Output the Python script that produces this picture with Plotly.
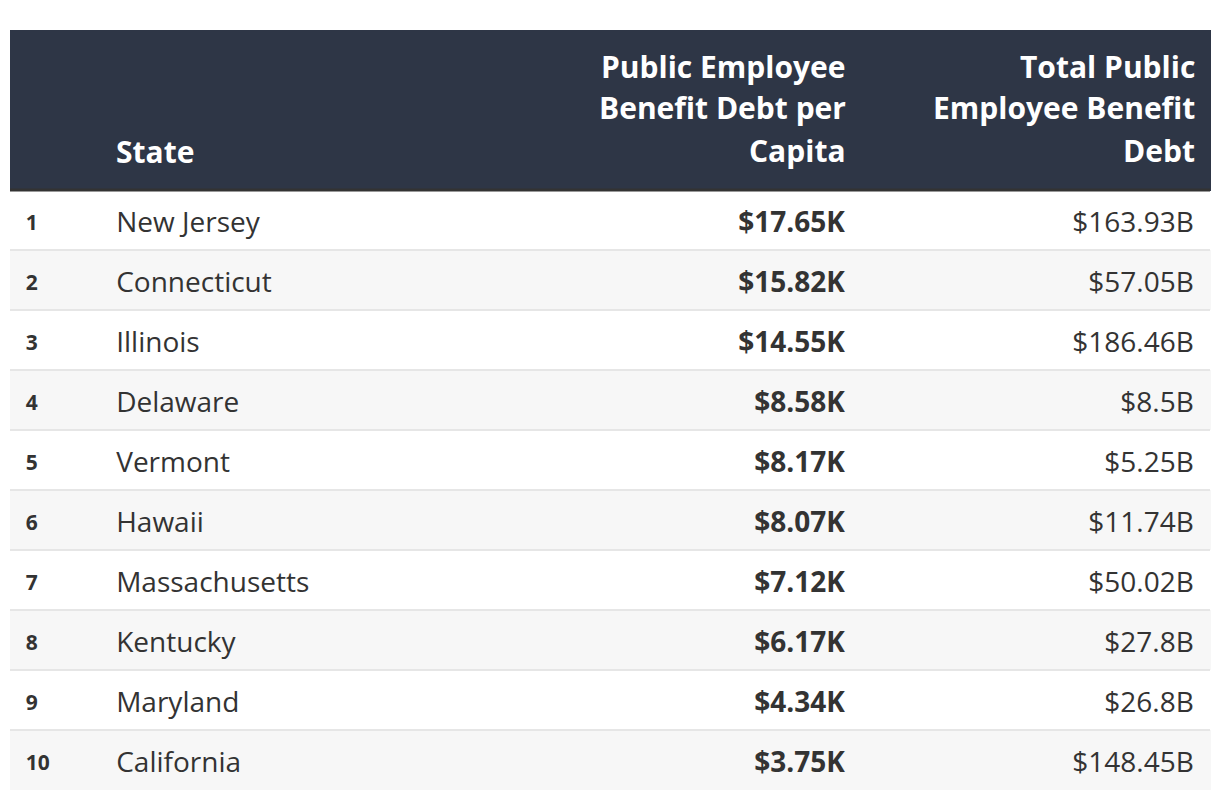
import plotly.graph_objects as go

ranks = ["1", "2", "3", "4", "5", "6", "7", "8", "9", "10"]
states = ["New Jersey", "Connecticut", "Illinois", "Delaware", "Vermont",
          "Hawaii", "Massachusetts", "Kentucky", "Maryland", "California"]
debt_per_capita = ["$17.65K", "$15.82K", "$14.55K", "$8.58K", "$8.17K",
                   "$8.07K", "$7.12K", "$6.17K", "$4.34K", "$3.75K"]
total_debt = ["$163.93B", "$57.05B", "$186.46B", "$8.5B", "$5.25B",
              "$11.74B", "$50.02B", "$27.8B", "$26.8B", "$148.45B"]
header_state = "State"
header_per_capita = ["Public Employee", "Benefit Debt per", "Capita"]
header_total = ["Total Public", "Employee Benefit", "Debt"]

HEADER_BG = "#2e3646"
TEXT = "#333333"
NB = "\u00a0"
COL_W = [90, 480, 281, 349]          # pixel widths of the four columns
TABLE_W = sum(COL_W)
HEADER_H = 160
ROW_H = 60
N_ROWS = len(states)
TABLE_H = HEADER_H + ROW_H * N_ROWS
TEXT_INSET = 16                       # right inset of right-aligned text


def span(t, size, bold=False):
    w = "font-weight:bold;" if bold else ""
    return f"<span style='font-size:{size}px;{w}'>{t}</span>"


def pad(size):
    # non-breaking space used as a spacer
    return span(NB, size)


row_fill = ["#ffffff" if i % 2 == 0 else "#f7f7f7" for i in range(N_ROWS)]

h_rank = "<br>" + pad(38)
h_state = pad(38) + "<br><br>" + pad(31) + span(header_state, 30, True)

fig = go.Figure(go.Table(
    columnwidth=COL_W,
    header=dict(
        values=[h_rank, h_state, "<br>", "<br>"],
        fill_color=HEADER_BG,
        line=dict(color=HEADER_BG, width=1),
        align=["left", "left", "right", "right"],
        font=dict(family="Open Sans", size=32.3, color="white"),
        height=HEADER_H,
    ),
    cells=dict(
        values=[["<br>" + pad(29.8) + span(r, 21, True) for r in ranks],
                ["<br>" + pad(31.5) + span(s, 28) for s in states],
                ["<br>" + span(v, 28, True) + pad(31.5) for v in debt_per_capita],
                ["<br>" + span(v, 28) + pad(31.5) for v in total_debt]],
        fill_color=[row_fill] * 4,
        line=dict(color=[row_fill] * 4, width=1),
        align=["left", "left", "right", "right"],
        font=dict(family="Open Sans", size=16, color=TEXT),
        height=ROW_H,
    ),
))

# right-aligned multi-line column titles (each line aligned on its own)
col_right = [sum(COL_W[:i + 1]) for i in range(len(COL_W))]
line_centers = [36, 78, 120]          # px below the top of the header
for col, lines in ((2, header_per_capita), (3, header_total)):
    for yc, txt in zip(line_centers, lines):
        fig.add_annotation(
            text=f"<b>{txt}</b>",
            x=(col_right[col] - TEXT_INSET + 3) / TABLE_W,
            y=1 - yc / TABLE_H,
            xref="paper", yref="paper", xanchor="right", yanchor="middle",
            showarrow=False,
            font=dict(family="Open Sans", size=30, color="white"),
        )

# horizontal rules: dark rule under the header, light rules between rows
shapes = [dict(type="line", xref="paper", yref="paper", x0=0, x1=1,
               y0=1 - HEADER_H / TABLE_H, y1=1 - HEADER_H / TABLE_H,
               line=dict(color="#333333", width=3), layer="above")]
for k in range(1, N_ROWS):
    yk = 1 - (HEADER_H + k * ROW_H) / TABLE_H
    shapes.append(dict(type="line", xref="paper", yref="paper", x0=0, x1=1,
                       y0=yk, y1=yk, line=dict(color="#e6e6e6", width=2),
                       layer="above"))

fig.update_layout(
    width=1204, height=782,
    margin=dict(l=2, r=2, t=22, b=0),
    paper_bgcolor="white",
    shapes=shapes,
)

fig.write_html("out.html")
